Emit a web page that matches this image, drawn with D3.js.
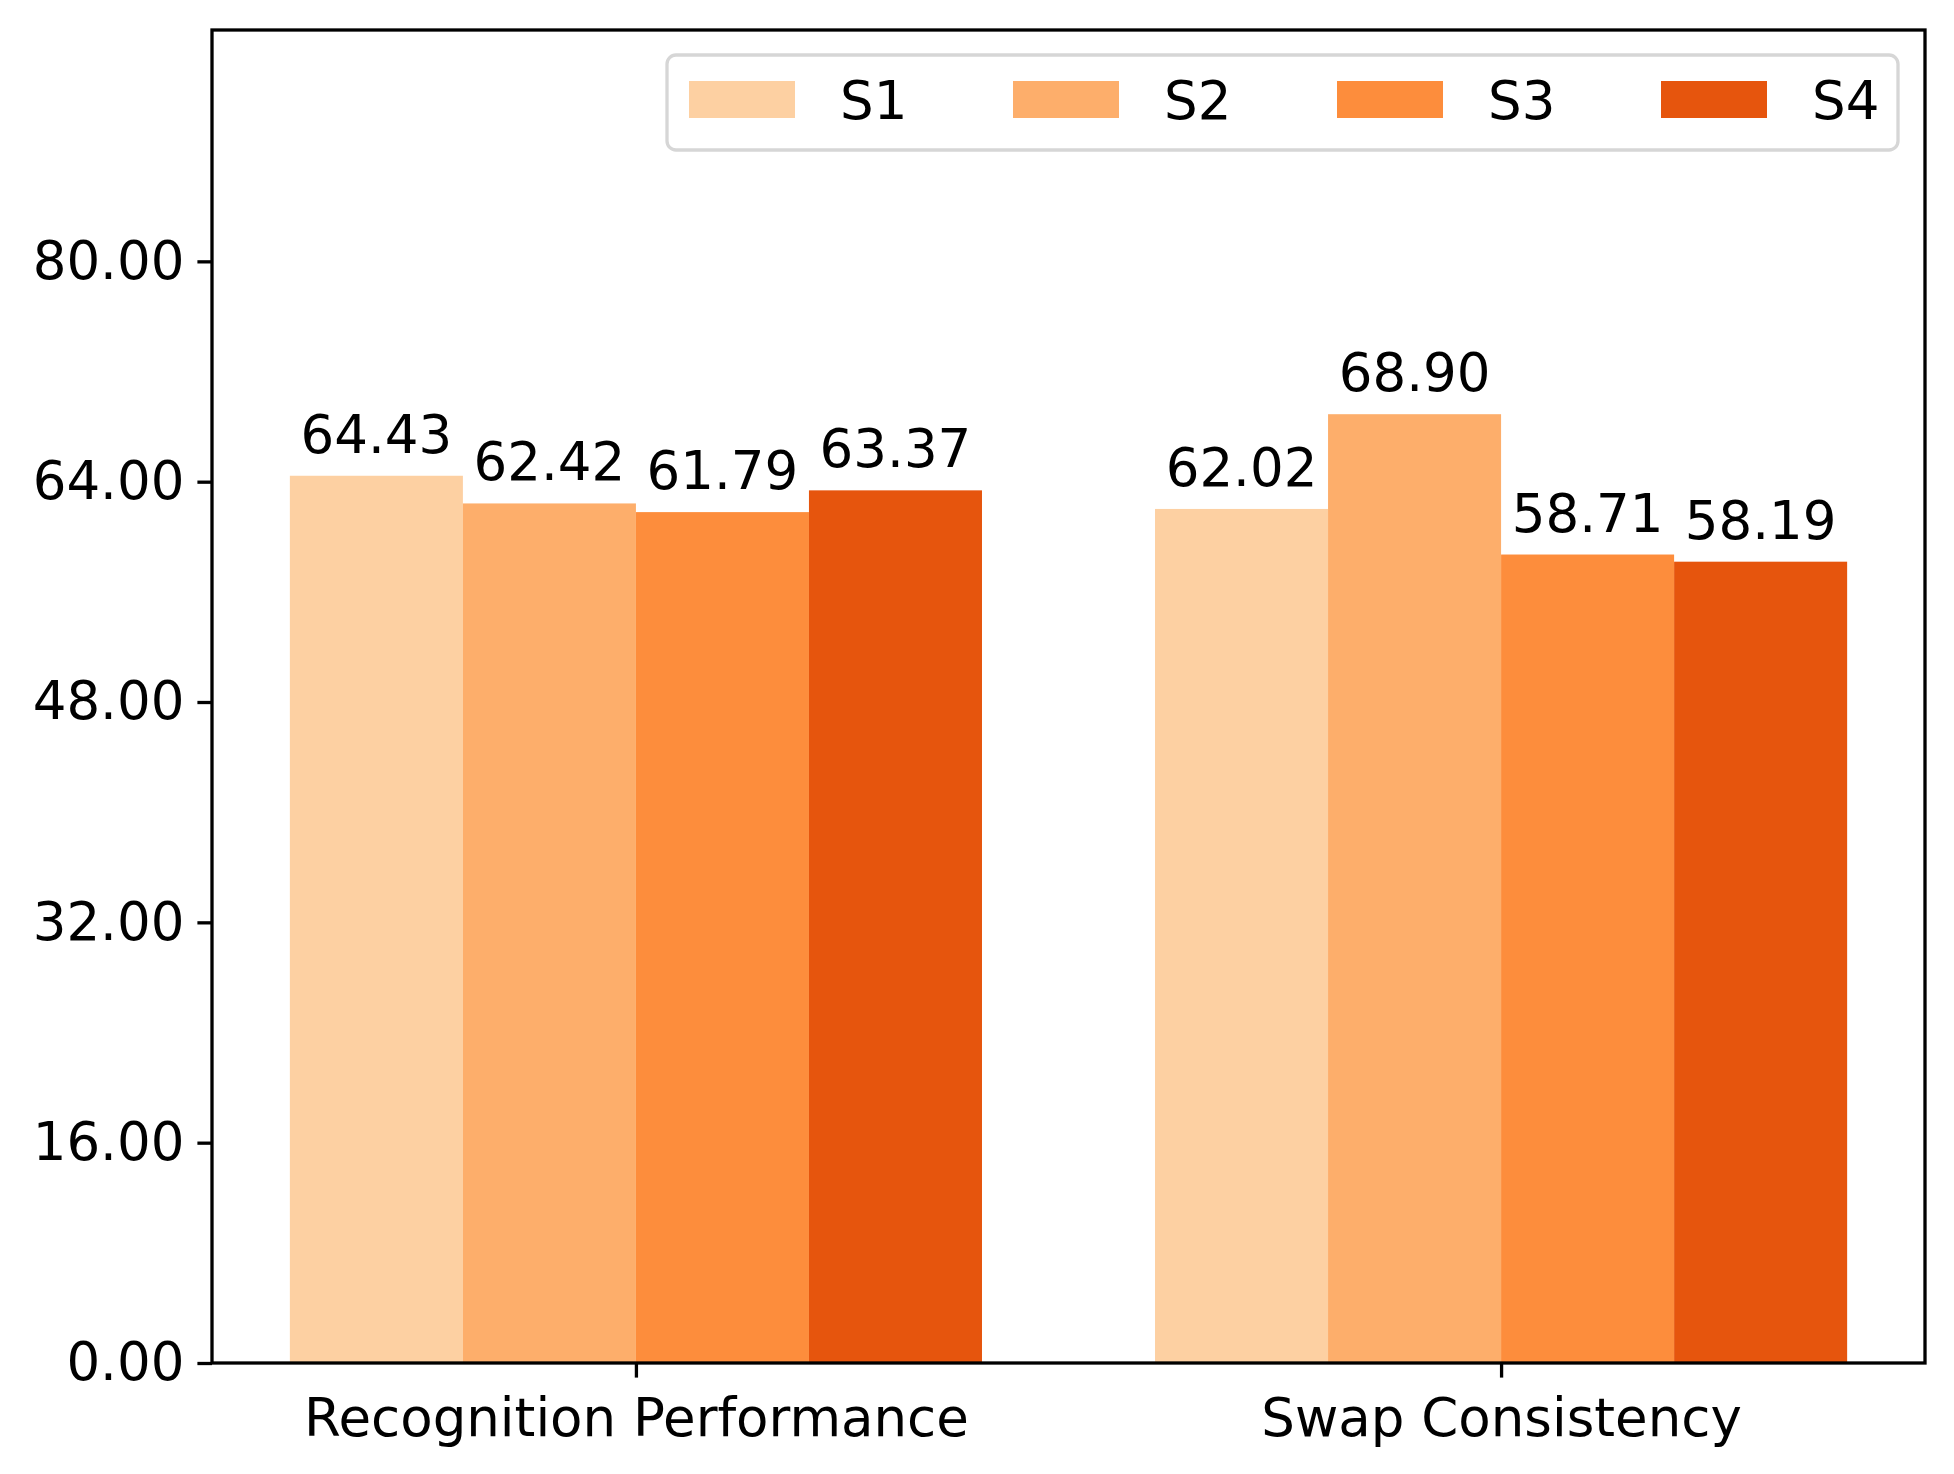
<!DOCTYPE html>
<html>
<head>
<meta charset="utf-8">
<script src="https://cdn.jsdelivr.net/npm/d3@7"></script>
<style>
  body { margin: 0; background: #fff; }
  text { font-family: "DejaVu Sans", sans-serif; }
</style>
</head>
<body>
<div id="chart"></div>
<script>
// chart values
var categories = ["Recognition Performance", "Swap Consistency"];
var seriesNames = ["S1", "S2", "S3", "S4"];
var s1Values = [64.43, 62.02];
var s2Values = [62.42, 68.90];
var s3Values = [61.79, 58.71];
var s4Values = [63.37, 58.19];
var yTickValues = [0, 16, 32, 48, 64, 80];
var seriesColors = ["#fdd0a2", "#fdae6b", "#fd8d3c", "#e6550d"];

function drawChart() {
	var allSeries = [s1Values, s2Values, s3Values, s4Values];

	var W = 1954, H = 1474;
	var axLeft = 212, axRight = 1925, axTop = 30, axBottom = 1363;
	var fontPx = 53;
	var barW = 0.2;

	var svg = d3.select("#chart").append("svg")
		.attr("width", W)
		.attr("height", H);

	// numeric x like matplotlib: bars at i + offset, 5% margins
	var x = d3.scaleLinear().domain([-0.49, 1.49]).range([axLeft, axRight]);
	var y = d3.scaleLinear().domain([0, 96.8]).range([axBottom, axTop]);

	// bars
	var bars = [];
	allSeries.forEach(function(vals, si) {
		vals.forEach(function(v, ci) {
			bars.push({ s: si, c: ci, v: v, pos: ci + (si - 1.5) * barW });
		});
	});

	svg.selectAll(".bar")
		.data(bars)
		.enter()
		.append("rect")
			.attr("class", "bar")
			.attr("x", function(d) { return x(d.pos - barW / 2); })
			.attr("width", function(d) { return x(d.pos + barW / 2) - x(d.pos - barW / 2); })
			.attr("y", function(d) { return y(d.v); })
			.attr("height", function(d) { return y(0) - y(d.v); })
			.style("fill", function(d) { return seriesColors[d.s]; });

	svg.selectAll(".barlabel")
		.data(bars)
		.enter()
		.append("text")
			.attr("class", "barlabel")
			.attr("x", function(d) { return x(d.pos); })
			.attr("y", function(d) { return y(d.v) - 23; })
			.attr("text-anchor", "middle")
			.style("font-size", fontPx + "px")
			.text(function(d) { return d.v.toFixed(2); });

	// axes
	var yAxis = d3.axisLeft(y)
		.tickValues(yTickValues)
		.tickFormat(d3.format(".2f"))
		.tickSize(14.6)
		.tickSizeOuter(0)
		.tickPadding(13);

	var xAxis = d3.axisBottom(x)
		.tickValues([0, 1])
		.tickFormat(function(d) { return categories[d]; })
		.tickSize(14.6)
		.tickSizeOuter(0)
		.tickPadding(21);

	var gy = svg.append("g")
		.attr("transform", "translate(" + axLeft + ",0)")
		.call(yAxis);
	var gx = svg.append("g")
		.attr("transform", "translate(0," + axBottom + ")")
		.call(xAxis);

	[gx, gy].forEach(function(g) {
		g.select(".domain").remove();
		g.selectAll(".tick line").style("stroke", "#000").style("stroke-width", 3.3);
		g.selectAll(".tick text")
			.style("font-size", fontPx + "px")
			.style("font-family", "'DejaVu Sans', sans-serif")
			.style("fill", "#000");
	});

	// frame (spines)
	svg.append("rect")
		.attr("x", axLeft)
		.attr("y", axTop)
		.attr("width", axRight - axLeft)
		.attr("height", axBottom - axTop)
		.style("fill", "none")
		.style("stroke", "#000")
		.style("stroke-width", 3.3);

	// legend
	var lg = svg.append("g");
	lg.append("rect")
		.attr("x", 667).attr("y", 55)
		.attr("width", 1231).attr("height", 95)
		.attr("rx", 9)
		.style("fill", "#fff")
		.style("stroke", "#d6d6d6")
		.style("stroke-width", 3.3);

	var items = lg.selectAll(".item")
		.data(seriesNames)
		.enter()
		.append("g")
			.attr("class", "item")
			.attr("transform", function(d, i) { return "translate(" + (689 + i * 324) + ",0)"; });

	items.append("rect")
		.attr("x", 0).attr("y", 81)
		.attr("width", 106).attr("height", 37)
		.style("fill", function(d, i) { return seriesColors[i]; });

	items.append("text")
		.attr("x", 151)
		.attr("y", 119)
		.style("font-size", fontPx + "px")
		.text(function(d) { return d; });
}

drawChart();
</script>
</body>
</html>
